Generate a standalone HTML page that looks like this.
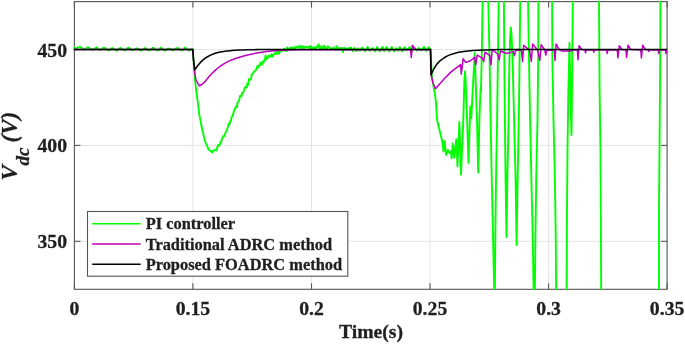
<!DOCTYPE html>
<html><head><meta charset="utf-8"><title>Vdc response</title>
<style>
html,body{margin:0;padding:0;background:#fff;}
svg{display:block;}
text{font-family:"Liberation Serif","Times New Roman",serif;font-weight:bold;fill:#1f1f1f;stroke:#1f1f1f;stroke-width:0.3px;}
</style></head>
<body>
<svg width="685" height="344" viewBox="0 0 685 344">
<rect x="0" y="0" width="685" height="344" fill="#fff"/>
<defs><clipPath id="c"><rect x="73.4" y="1.1" width="594.2" height="288.7"/></clipPath></defs>
<g stroke="#e3e3e3" stroke-width="1" fill="none"><line x1="192.9" y1="1.6" x2="192.9" y2="289.3"/><line x1="311.5" y1="1.6" x2="311.5" y2="289.3"/><line x1="430.0" y1="1.6" x2="430.0" y2="289.3"/><line x1="548.6" y1="1.6" x2="548.6" y2="289.3"/><line x1="74.4" y1="49.6" x2="667.1" y2="49.6"/><line x1="74.4" y1="145.4" x2="667.1" y2="145.4"/><line x1="74.4" y1="241.3" x2="667.1" y2="241.3"/></g>
<g stroke="#555" stroke-width="1.1" fill="none"><line x1="74.4" y1="289.3" x2="74.4" y2="283.3"/><line x1="74.4" y1="1.6" x2="74.4" y2="7.6"/><line x1="192.9" y1="289.3" x2="192.9" y2="283.3"/><line x1="192.9" y1="1.6" x2="192.9" y2="7.6"/><line x1="311.5" y1="289.3" x2="311.5" y2="283.3"/><line x1="311.5" y1="1.6" x2="311.5" y2="7.6"/><line x1="430.0" y1="289.3" x2="430.0" y2="283.3"/><line x1="430.0" y1="1.6" x2="430.0" y2="7.6"/><line x1="548.6" y1="289.3" x2="548.6" y2="283.3"/><line x1="548.6" y1="1.6" x2="548.6" y2="7.6"/><line x1="667.1" y1="289.3" x2="667.1" y2="283.3"/><line x1="667.1" y1="1.6" x2="667.1" y2="7.6"/><line x1="74.4" y1="49.6" x2="80.4" y2="49.6"/><line x1="667.1" y1="49.6" x2="661.1" y2="49.6"/><line x1="74.4" y1="145.4" x2="80.4" y2="145.4"/><line x1="667.1" y1="145.4" x2="661.1" y2="145.4"/><line x1="74.4" y1="241.3" x2="80.4" y2="241.3"/><line x1="667.1" y1="241.3" x2="661.1" y2="241.3"/><rect x="74.4" y="1.6" width="592.7" height="287.7"/></g>
<g clip-path="url(#c)" fill="none" stroke-width="1.8" stroke-linejoin="round">
<polyline stroke="#00ff00" stroke-width="1.9" points="73.6,46.9 74.6,47.8 75.6,48.3 76.6,48.5 77.6,47.7 78.6,47.4 79.6,46.9 80.6,47.0 81.6,47.9 82.6,48.4 83.6,50.0 84.6,49.2 85.6,48.8 86.6,48.0 87.6,47.4 88.6,47.4 89.6,48.2 90.6,48.9 91.6,49.6 92.6,49.9 93.6,49.1 94.6,48.8 95.6,47.8 96.6,47.4 97.6,48.1 98.6,49.8 99.6,49.8 100.6,49.9 101.6,49.2 102.6,48.4 103.6,47.7 104.6,48.3 105.6,48.0 106.6,49.5 107.6,49.9 108.6,50.3 109.6,50.3 110.6,49.0 111.6,48.3 112.6,48.1 113.6,48.7 114.6,49.4 115.6,49.8 116.6,50.8 117.6,49.4 118.6,49.2 119.6,48.3 120.6,48.0 121.6,49.0 122.6,48.8 123.6,49.9 124.6,50.5 125.6,50.1 126.6,49.3 127.6,48.0 128.6,47.8 129.6,48.2 130.6,49.0 131.6,50.3 132.6,50.1 133.6,49.9 134.6,49.4 135.6,48.9 136.6,48.5 137.6,48.5 138.6,49.2 139.6,49.7 140.6,50.7 141.6,50.4 142.6,49.6 143.6,49.1 144.6,48.2 145.6,48.3 146.6,49.1 147.6,49.8 148.6,50.6 149.6,50.2 150.6,49.4 151.6,49.0 152.6,47.9 153.6,48.0 154.6,48.8 155.6,49.7 156.6,50.3 157.6,50.2 158.6,50.2 159.6,48.8 160.6,47.6 161.6,48.3 162.6,49.0 163.6,49.6 164.6,50.7 165.6,50.1 166.6,50.1 167.6,48.6 168.6,48.6 169.6,48.6 170.6,49.0 171.6,49.4 172.6,50.6 173.6,49.7 174.6,49.4 175.6,48.7 176.6,48.1 177.6,48.6 178.6,48.2 179.6,50.0 180.6,49.9 181.6,50.4 182.6,50.4 183.6,49.4 184.6,47.6 185.6,48.2 186.6,48.9 187.6,49.4 188.6,50.2 189.6,50.7 190.6,49.5 191.6,49.1 192.6,49.0 192.8,49.4 193.2,55.0 194.0,66.0 195.0,79.0 196.0,89.0 196.8,94.5 197.5,100.0 198.4,107.2 199.3,114.5 200.1,118.6 200.9,122.7 201.6,126.8 202.4,130.9 203.2,133.7 203.9,136.5 204.7,139.3 205.4,142.1 206.2,143.9 206.9,145.7 207.7,147.5 208.5,149.3 209.3,150.0 210.1,150.6 210.8,151.2 211.6,151.9 212.4,152.5 213.2,150.4 214.1,150.4 214.9,150.0 215.7,150.6 216.5,150.1 217.3,147.2 218.1,145.0 218.9,145.9 219.7,145.3 220.5,141.9 221.2,142.5 222.0,138.8 222.8,136.5 223.6,136.2 224.3,136.4 225.1,133.6 225.9,131.9 226.6,130.4 227.4,128.9 228.1,126.3 228.8,123.4 229.5,124.2 230.3,121.2 231.0,120.3 231.8,116.8 232.5,115.9 233.2,113.9 234.0,110.9 234.7,109.0 235.5,107.9 236.2,106.3 237.0,107.2 237.7,101.8 238.5,101.7 239.2,100.4 240.0,95.9 240.7,95.6 241.5,96.4 242.2,92.8 243.0,92.8 243.8,90.9 244.5,88.6 245.3,87.0 246.0,86.7 246.7,87.5 247.4,83.4 248.1,84.9 248.9,79.0 249.6,79.6 250.3,79.9 251.0,79.2 251.7,74.5 252.4,74.3 253.1,73.5 253.9,71.7 254.6,71.5 255.3,70.4 256.1,70.0 256.8,67.6 257.6,65.8 258.3,67.5 259.0,65.6 259.8,64.8 260.5,62.4 261.2,65.1 262.0,64.7 262.7,62.6 263.4,61.0 264.2,61.8 264.9,59.6 265.6,55.5 266.4,59.2 267.1,58.7 267.9,57.1 268.6,55.8 269.3,57.3 270.1,55.6 270.8,56.2 271.5,54.3 272.3,56.7 273.0,56.0 273.8,54.2 274.5,53.5 275.3,53.4 276.0,52.1 276.8,54.2 277.5,51.8 278.3,51.8 279.0,53.8 279.7,51.0 280.5,51.6 281.2,50.7 282.0,50.5 282.7,50.6 283.5,50.2 284.2,48.8 285.0,50.5 285.7,50.3 286.5,51.1 287.2,47.5 287.9,48.6 288.7,49.3 289.4,49.9 290.1,47.5 290.8,48.0 291.6,47.5 292.3,49.8 293.0,48.5 293.8,47.2 294.5,47.7 295.2,49.1 295.9,46.6 296.7,47.3 297.4,46.5 298.1,47.3 298.9,46.6 299.6,47.8 300.3,45.8 301.0,46.0 301.8,48.2 302.5,47.7 303.2,46.3 304.0,47.8 304.7,47.9 305.4,46.7 306.1,47.3 306.9,46.8 307.6,47.0 308.3,47.0 309.1,47.8 309.8,46.0 310.5,48.9 311.2,46.5 312.0,48.4 312.7,47.5 313.4,48.1 314.2,48.0 314.9,47.2 315.6,49.2 316.4,47.4 317.1,46.4 317.8,47.0 318.5,44.3 319.3,47.8 320.0,49.3 320.7,48.9 321.4,46.1 322.1,48.2 322.9,48.3 323.6,46.5 324.3,45.7 325.0,47.7 325.7,49.0 326.4,47.7 327.1,48.9 327.9,46.2 328.6,47.2 329.3,47.1 330.0,47.9 330.7,48.5 331.4,48.6 332.1,48.7 332.9,48.3 333.6,47.4 334.3,48.7 335.0,49.0 335.7,49.9 336.4,46.3 337.1,48.1 337.9,47.7 338.6,48.7 339.3,49.7 340.0,47.9 340.7,48.9 341.4,47.8 342.1,49.1 342.9,52.1 343.6,48.0 344.3,47.9 345.0,48.5 345.7,50.0 346.4,48.6 347.1,48.9 347.9,49.0 348.6,47.9 349.3,50.0 350.0,49.0 351.0,47.5 352.9,51.1 354.5,48.0 356.2,50.9 357.9,48.4 359.9,50.6 362.3,47.5 365.0,51.3 367.6,46.9 369.7,50.8 372.7,48.1 375.3,51.3 377.0,47.0 379.8,51.3 382.4,47.0 384.2,51.1 386.5,47.0 389.3,51.6 391.7,46.9 394.2,51.4 396.2,48.3 398.0,50.8 399.7,47.0 402.1,51.3 404.6,47.2 406.8,50.2 409.6,47.1 411.9,51.1 414.4,48.3 417.0,50.6 418.7,47.9 421.3,50.5 424.0,46.7 426.3,50.9 428.5,47.2 430.5,49.4 431.2,62.0 431.8,75.8 434.0,89.0 435.8,100.0 437.0,119.8 440.5,134.0 442.6,142.8 443.5,151.5 444.5,141.0 446.1,155.0 448.0,149.8 449.6,153.3 451.0,151.5 451.7,158.5 452.8,143.7 454.2,157.7 456.3,139.3 457.5,166.4 459.4,121.8 461.0,174.7 463.3,120.0 464.4,80.0 465.0,71.4 465.6,80.0 467.1,120.0 468.5,162.9 470.3,106.4 471.3,118.0 474.7,53.0 477.0,120.0 478.2,172.6 479.4,120.0 480.6,88.0 480.9,92.0 481.7,60.0 482.6,2.0 485.4,-110.0 488.3,2.0 489.6,60.0 490.6,120.0 491.8,180.0 493.1,240.0 494.2,289.0 494.6,305.0 494.9,289.0 495.3,240.0 496.0,180.0 497.1,120.0 497.9,60.0 498.7,2.0 501.3,-150.0 503.9,2.0 504.3,60.0 504.9,120.0 505.6,180.0 506.5,237.0 507.3,180.0 508.6,120.0 509.4,60.0 510.2,36.0 510.9,27.5 511.6,36.0 512.6,60.0 514.1,120.0 515.6,180.0 516.6,245.0 517.6,180.0 518.8,120.0 519.6,60.0 520.2,2.0 524.0,-200.0 528.1,2.0 529.0,60.0 530.1,120.0 531.4,180.0 532.8,240.0 533.6,289.0 534.2,320.0 534.9,289.0 535.4,240.0 536.2,180.0 537.5,120.0 538.2,60.0 538.4,2.0 539.0,-100.0 551.5,-100.0 552.1,2.0 552.4,60.0 553.5,120.0 554.9,180.0 555.8,240.0 556.1,289.0 556.3,330.0 566.4,330.0 566.6,289.0 567.0,210.0 567.5,150.0 568.4,90.0 569.5,43.0 570.3,90.0 571.5,135.0 572.0,90.0 572.8,2.0 573.2,-100.0 598.6,-100.0 599.0,2.0 599.6,90.0 600.5,150.0 600.8,210.0 601.2,289.0 601.4,330.0 658.9,330.0 659.0,289.0 659.0,210.0 659.5,150.0 660.0,90.0 660.4,2.0 660.6,-100.0"/>
<polyline stroke="#bf00bf" stroke-width="1.5" points="73.6,49.6 192.8,49.6 194.3,70.0 196.0,80.0 199.3,85.8 202.0,84.5 205.4,81.1 210.0,75.5 215.7,69.9 220.5,66.0 225.9,62.7 231.0,60.2 236.1,58.2 246.3,55.3 256.5,53.1 266.7,51.6 277.0,50.6 287.0,50.0 300.0,49.8 410.6,49.8 411.3,57.4 412.3,45.2 415.8,49.8 430.5,49.8 431.2,75.0 433.0,83.0 435.5,88.7 443.8,79.2 451.1,71.9 460.6,64.6 461.3,74.1 463.1,58.8 465.7,62.4 470.0,61.0 474.7,57.4 475.8,65.0 477.2,55.1 482.3,58.0 483.8,61.5 485.0,52.2 489.9,55.7 491.0,65.0 492.2,49.3 498.0,54.5 499.2,59.8 500.4,51.0 505.0,52.8 507.4,53.4 513.2,51.6 514.4,55.7 515.5,50.4 521.4,49.9 522.6,61.5 523.7,45.2 529.6,50.4 531.3,61.5 532.7,44.0 537.7,50.4 539.8,60.4 541.2,44.6 544.7,49.9 545.8,55.1 546.8,49.9 554.3,50.2 555.0,60.4 556.1,44.0 559.3,49.6 562.0,51.0 571.0,51.0 574.0,49.8 577.4,50.0 578.0,59.8 579.1,45.8 582.0,49.6 585.0,50.0 585.5,52.8 586.2,49.8 593.2,50.0 593.7,52.2 594.4,49.8 606.6,50.0 607.2,53.4 607.9,49.8 617.3,50.0 617.9,58.0 619.3,45.8 622.0,49.6 626.0,50.0 626.6,57.4 628.0,45.2 631.0,49.6 640.8,50.0 641.4,58.0 642.7,45.2 645.5,49.6 648.3,50.0 648.8,51.6 649.4,49.8 658.1,50.0 658.7,53.4 659.4,49.8 665.4,50.0 666.0,53.4 666.6,49.8 667.1,49.8"/>
<polyline stroke="#000000" stroke-width="1.55" points="73.6,49.5 192.8,49.5 193.5,60.0 194.8,69.9 196.0,68.0 198.0,65.2 200.0,62.9 202.0,60.9 204.0,59.2 206.0,57.7 208.0,56.5 210.0,55.4 212.0,54.5 214.0,53.8 216.0,53.1 218.0,52.6 220.0,52.1 222.0,51.7 224.0,51.4 226.0,51.1 228.0,50.9 230.0,50.7 232.0,50.5 234.0,50.3 236.0,50.2 238.0,50.1 240.0,50.0 242.0,49.9 244.0,49.9 246.0,49.8 248.0,49.8 250.0,49.7 252.0,49.7 254.0,49.7 256.0,49.6 258.0,49.6 262.0,49.5 430.5,49.5 431.1,74.8 433.5,69.5 436.5,64.6 440.0,60.8 443.8,58.0 447.5,55.9 451.1,54.4 458.4,52.2 465.7,51.2 473.0,50.5 485.0,49.9 500.0,49.6 520.0,49.5 667.1,49.5"/>
</g>
<g font-size="19.7"><text x="74.4" y="315.3" text-anchor="middle">0</text><text x="192.9" y="315.3" text-anchor="middle">0.15</text><text x="311.5" y="315.3" text-anchor="middle">0.2</text><text x="430.0" y="315.3" text-anchor="middle">0.25</text><text x="548.6" y="315.3" text-anchor="middle">0.3</text><text x="667.1" y="315.3" text-anchor="middle">0.35</text><text x="67" y="56.6" text-anchor="end">450</text><text x="67" y="152.4" text-anchor="end">400</text><text x="67" y="248.3" text-anchor="end">350</text><text x="371" y="338.2" text-anchor="middle">Time(s)</text></g>
<g transform="translate(17,180.5) rotate(-90)" font-style="italic"><text x="0" y="0" font-size="23">V</text><text x="14.9" y="12" font-size="19">dc</text><text x="38" y="0" font-size="23">(V)</text></g>
<g>
<rect x="87.5" y="211.5" width="260.3" height="64.7" fill="#fff" stroke="#555" stroke-width="1.1"/>
<g stroke-width="1.6"><line x1="92.2" y1="223.7" x2="140.6" y2="223.7" stroke="#00ff00"/><line x1="92.2" y1="244" x2="140.6" y2="244" stroke="#bf00bf"/><line x1="92.2" y1="264.3" x2="140.6" y2="264.3" stroke="#000"/></g>
<g font-size="16.4"><text x="145.7" y="229.2">PI controller</text><text x="145.7" y="249.5">Traditional ADRC method</text><text x="145.7" y="269.8">Proposed FOADRC method</text></g>
</g>
</svg>
</body></html>
